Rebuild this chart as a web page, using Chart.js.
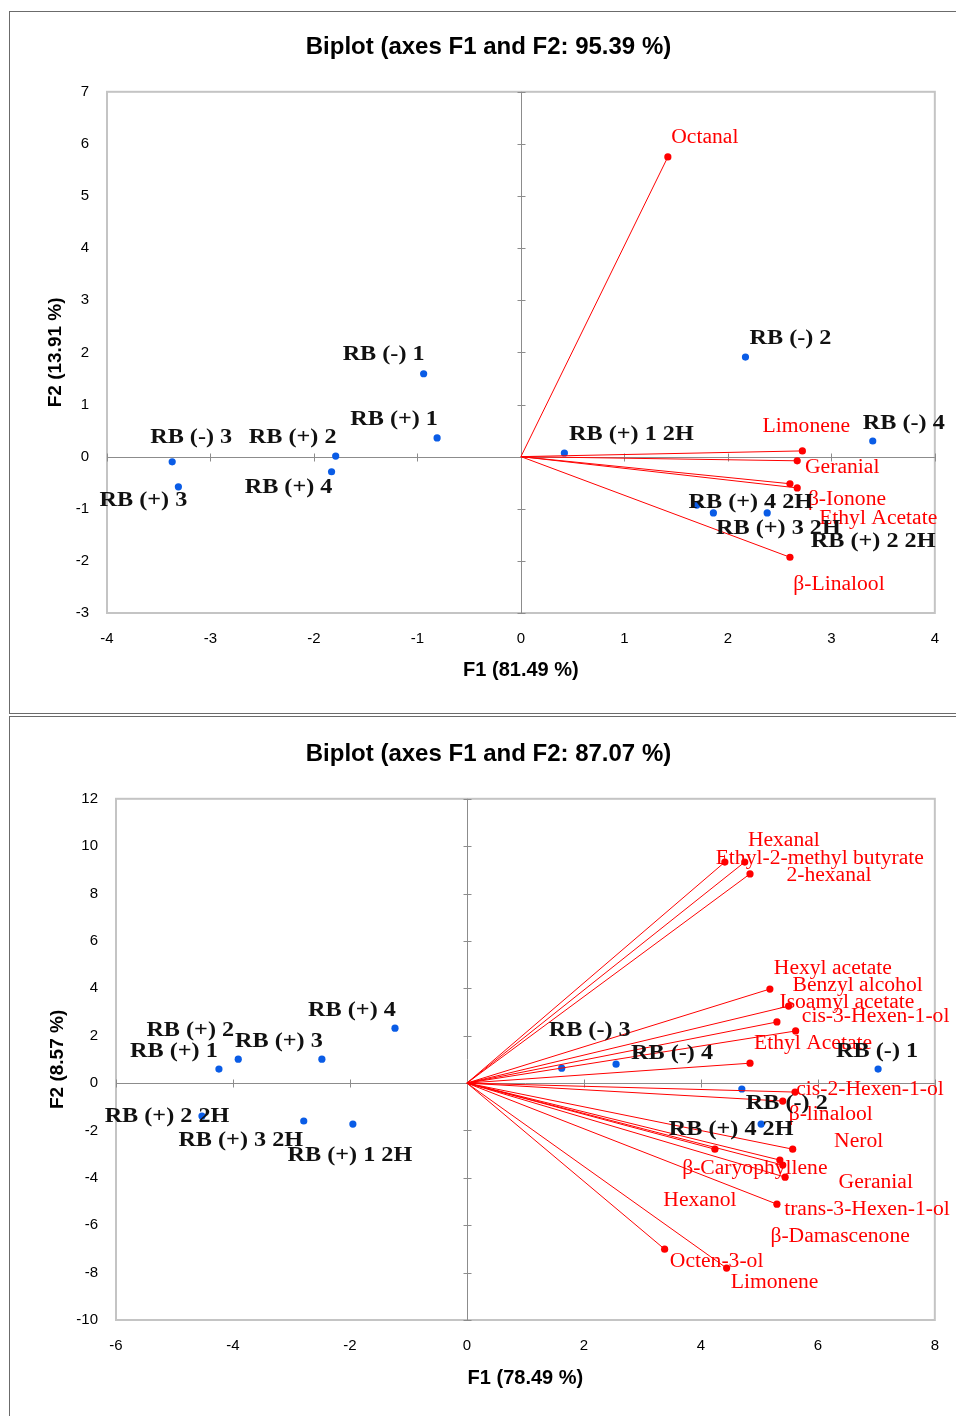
<!DOCTYPE html>
<html><head><meta charset="utf-8">
<script src="https://cdn.jsdelivr.net/npm/chart.js@4.4.1/dist/chart.umd.min.js"></script>
<style>
html,body{margin:0;padding:0;background:#fff;width:956px;height:1416px;overflow:hidden;position:relative;}
.panel{position:absolute;left:9px;width:1000px;border:1px solid #6b6b6b;background:#fff;}
#p1{top:11px;height:701px;}
#p2{top:716px;height:760px;}
canvas{position:absolute;}
</style></head><body>
<div class="panel" id="p1"></div>
<div class="panel" id="p2"></div>
<canvas id="c1" width="946" height="700" style="left:10px;top:12px"></canvas>
<canvas id="c2" width="946" height="698" style="left:10px;top:718px"></canvas>
<script>
// ---------- Chart 1 data ----------
const title1 = 'Biplot (axes F1 and F2: 95.39 %)';
const xTitle1 = 'F1 (81.49 %)';
const yTitle1 = 'F2 (13.91 %)';
const obsLabels1 = ['RB (-) 1','RB (+) 1','RB (+) 2','RB (+) 4','RB (-) 3','RB (+) 3','RB (+) 1 2H','RB (-) 2','RB (-) 4','RB (+) 4 2H','RB (+) 3 2H','RB (+) 2 2H'];
const obsF1_1 = [-0.94,-0.81,-1.79,-1.83,-3.37,-3.31,0.42,2.17,3.40,1.70,1.86,2.38];
const obsF2_1 = [1.59,0.36,0.01,-0.29,-0.10,-0.58,0.07,1.91,0.30,-0.93,-1.08,-1.08];
const varLabels1 = ['Octanal','Limonene','Geranial','β-Ionone','Ethyl Acetate','β-Linalool'];
const varF1_1 = [1.42,2.72,2.67,2.60,2.67,2.60];
const varF2_1 = [5.75,0.11,-0.08,-0.52,-0.60,-1.93];

// ---------- Chart 2 data ----------
const title2 = 'Biplot (axes F1 and F2: 87.07 %)';
const xTitle2 = 'F1 (78.49 %)';
const yTitle2 = 'F2 (8.57 %)';
const obsLabels2 = ['RB (+) 4','RB (+) 3','RB (+) 2','RB (+) 1','RB (+) 2 2H','RB (+) 3 2H','RB (+) 1 2H','RB (-) 3','RB (-) 4','RB (-) 1','RB (-) 2','RB (+) 4 2H'];
const obsF1_2 = [-1.23,-2.48,-3.91,-4.24,-4.53,-2.79,-1.95,1.62,2.55,7.03,4.70,5.03];
const obsF2_2 = [2.32,1.01,1.01,0.59,-1.39,-1.60,-1.73,0.63,0.80,0.59,-0.25,-1.73];
const varLabels2 = ['Hexanal','Ethyl-2-methyl butyrate','2-hexanal','Hexyl acetate','Benzyl alcohol','Isoamyl acetate','cis-3-Hexen-1-ol','Ethyl Acetate','cis-2-Hexen-1-ol','β-linalool','Nerol','β-Caryophyllene','Geranial','Hexanol','trans-3-Hexen-1-ol','β-Damascenone','Octen-3-ol','Limonene'];
const varF1_2 = [4.41,4.75,4.84,5.18,5.50,5.30,5.62,4.84,5.61,5.40,5.57,5.35,5.40,4.24,5.30,5.44,3.38,4.44];
const varF2_2 = [9.33,9.33,8.83,3.97,3.25,2.58,2.20,0.84,-0.38,-0.76,-2.79,-3.25,-3.46,-2.79,-5.11,-3.97,-7.01,-7.81];

// ---------- label placement (pixel offsets of label centre from its point) ----------
const obsOff1 = [[-40,-19],[-43,-19],[-43,-19],[-43,16],[19,-25],[-35,13],[67,-19],[45,-19],[31,-18],[54,-3],[65,15],[106,28]];
const varOff1 = [[37,-19],[4,-24],[45,7],[57,16],[81,31],[49,28]];
const obsOff2 = [[-43,-18],[-43,-18],[-48,-29],[-45,-18],[-35,0],[-63,19],[-3,31],[28,-38],[56,-11],[-1,-18],[45,14],[-30,5]];
const varOff2 = [[59,-21],[75,-3],[79,2],[63,-20],[69,-20],[70,-19],[80,-14],[63,-19],[75,-2],[48,14],[66,-7],[-25,9],[93,18],[-15,52],[90,6],[55,60],[52,13],[48,15]];

const NARROW = "'Liberation Sans Narrow','Arial Narrow','Liberation Sans',Arial,sans-serif";
const SERIF = "'Liberation Serif','Times New Roman',serif";
const RED = '#ff0000';
const BLUE = '#0a5ce6';

const labelPlugin = {
  id: 'biplotLabels',
  afterDatasetsDraw(chart, args, opts) {
    const {ctx} = chart;
    const xs = chart.scales.x, ys = chart.scales.y;
    ctx.save();
    opts.groups.forEach(g => {
      ctx.font = g.font; ctx.fillStyle = g.color;
      ctx.textAlign = 'center'; ctx.textBaseline = 'middle';
      g.labels.forEach((t, i) => {
        const px = xs.getPixelForValue(g.xs[i]) + g.off[i][0];
        const py = ys.getPixelForValue(g.ys[i]) + g.off[i][1];
        ctx.save(); ctx.translate(px, py); ctx.scale(g.sx, 1); ctx.fillText(t, 0, 0); ctx.restore();
      });
    });
    ctx.restore();
  }
};

const framePlugin = {
  id: 'biplotFrame',
  beforeDatasetsDraw(chart) {
    const {ctx, chartArea: a} = chart;
    const xs = chart.scales.x, ys = chart.scales.y;
    ctx.save();
    ctx.strokeStyle = '#c4c4c4'; ctx.lineWidth = 2;
    ctx.strokeRect(a.left, a.top, a.right - a.left, a.bottom - a.top);
    const x0 = Math.round(xs.getPixelForValue(0)) + 0.5;
    const y0 = Math.round(ys.getPixelForValue(0)) + 0.5;
    ctx.strokeStyle = '#8c8c8c'; ctx.lineWidth = 1;
    ctx.beginPath();
    ctx.moveTo(x0, a.top); ctx.lineTo(x0, a.bottom);
    ctx.moveTo(a.left, y0); ctx.lineTo(a.right, y0);
    ys.ticks.forEach(t => { const p = Math.round(ys.getPixelForValue(t.value)) + 0.5; ctx.moveTo(x0 - 4, p); ctx.lineTo(x0 + 4, p); });
    xs.ticks.forEach(t => { const p = Math.round(xs.getPixelForValue(t.value)) + 0.5; ctx.moveTo(p, y0 - 4); ctx.lineTo(p, y0 + 4); });
    ctx.stroke();
    ctx.restore();
  }
};

function makeChart(id, c) {
  const datasets = [];
  c.varX.forEach((vx, i) => datasets.push({
    data: [{x: 0, y: 0}, {x: vx, y: c.varY[i]}],
    showLine: true, borderColor: RED, borderWidth: 1,
    pointRadius: [0, 3.6], pointBackgroundColor: RED, pointBorderWidth: 0
  }));
  datasets.push({
    data: c.obsX.map((vx, i) => ({x: vx, y: c.obsY[i]})),
    showLine: false, pointRadius: 3.6, pointBackgroundColor: BLUE, pointBorderWidth: 0
  });
  return new Chart(document.getElementById(id), {
    type: 'scatter',
    data: {datasets},
    plugins: [framePlugin, labelPlugin],
    options: {
      responsive: false, animation: false, devicePixelRatio: 1,
      layout: {padding: {left: 32, right: 21, top: 0, bottom: 0}},
      plugins: {
        legend: {display: false}, tooltip: {enabled: false},
        title: {display: true, text: c.title, color: '#000',
          font: {family: NARROW, size: 24, weight: 'bold'},
          padding: {top: c.titleTop, bottom: c.titleBottom}},
        biplotLabels: {groups: [
          {labels: c.varLabels, xs: c.varX, ys: c.varY, off: c.varOff, font: '20px ' + SERIF, color: RED, sx: 1.08},
          {labels: c.obsLabels, xs: c.obsX, ys: c.obsY, off: c.obsOff, font: 'bold 22px ' + SERIF, color: '#111', sx: 1.1}
        ]}
      },
      scales: {
        x: {type: 'linear', min: c.xMin, max: c.xMax,
          ticks: {stepSize: c.xStep, color: '#000', font: {family: NARROW, size: 15}, padding: 17, autoSkip: false, maxRotation: 0},
          grid: {display: false, drawTicks: false}, border: {display: false},
          title: {display: true, text: c.xTitle, color: '#000', font: {family: NARROW, size: 20, weight: 'bold'}, padding: {top: 0, bottom: c.xTitlePad}},
          afterFit(s) { s.height = c.xH; }
        },
        y: {type: 'linear', min: c.yMin, max: c.yMax,
          ticks: {stepSize: c.yStep, color: '#000', font: {family: NARROW, size: 15}, padding: 18, autoSkip: false},
          grid: {display: false, drawTicks: false}, border: {display: false},
          title: {display: true, text: c.yTitle, color: '#000', font: {family: NARROW, size: 19, weight: 'bold'}, padding: {top: c.yTitlePad, bottom: 0}},
          afterFit(s) { s.width = c.yW; }
        }
      }
    }
  });
}

makeChart('c1', {
  title: title1, xTitle: xTitle1, yTitle: yTitle1,
  obsLabels: obsLabels1, obsX: obsF1_1, obsY: obsF2_1, obsOff: obsOff1,
  varLabels: varLabels1, varX: varF1_1, varY: varF2_1, varOff: varOff1,
  xMin: -4, xMax: 4, xStep: 1, yMin: -3, yMax: 7, yStep: 1,
  titleTop: 21, titleBottom: 30, xH: 99, yW: 65, xTitlePad: 30, yTitlePad: 2
});
makeChart('c2', {
  title: title2, xTitle: xTitle2, yTitle: yTitle2,
  obsLabels: obsLabels2, obsX: obsF1_2, obsY: obsF2_2, obsOff: obsOff2,
  varLabels: varLabels2, varX: varF1_2, varY: varF2_2, varOff: varOff2,
  xMin: -6, xMax: 8, xStep: 2, yMin: -10, yMax: 12, yStep: 2,
  titleTop: 22, titleBottom: 30, xH: 96, yW: 74, xTitlePad: 26, yTitlePad: 4
});
</script>
</body></html>
